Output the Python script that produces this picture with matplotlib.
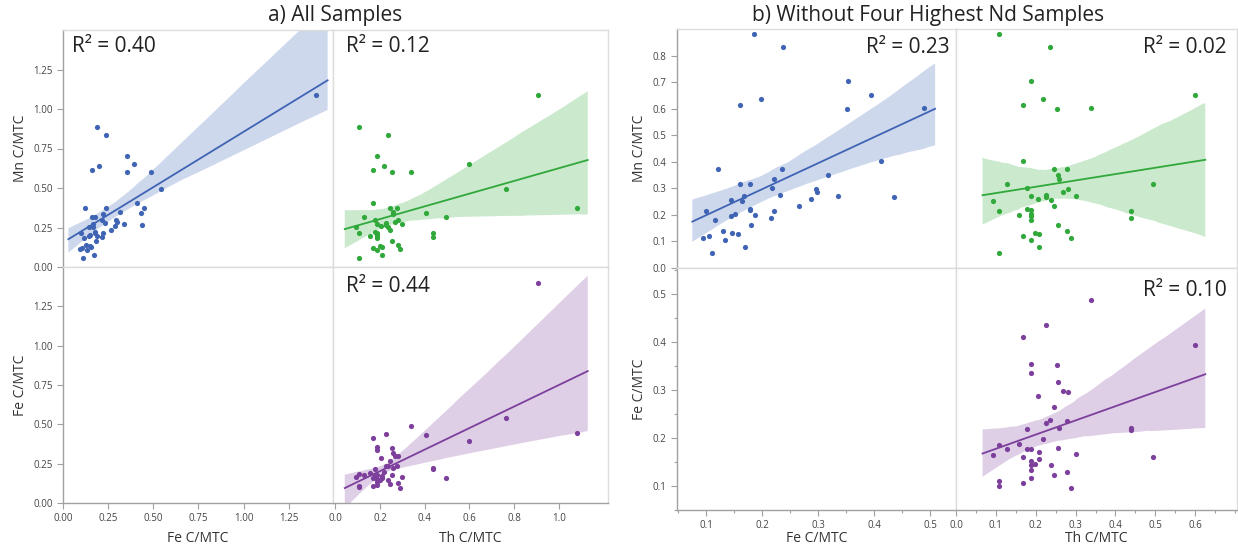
import numpy as np
import matplotlib.pyplot as plt
import seaborn as sns
from matplotlib.ticker import MultipleLocator, FixedLocator, FormatStrFormatter

plt.rcParams['font.family'] = ['Open Sans', 'DejaVu Sans']

# samples kept in panel b (Fe, Mn, Th ratios C/MTC)
fe = np.array([0.186, 0.238, 0.198, 0.160, 0.354, 0.352, 0.489, 0.395, 0.412, 0.436,
               0.122, 0.236, 0.222, 0.318, 0.218, 0.296, 0.298, 0.167, 0.335, 0.232,
               0.288, 0.144, 0.164, 0.265, 0.178, 0.161, 0.100, 0.221, 0.178, 0.178,
               0.216, 0.188, 0.152, 0.144, 0.116, 0.180, 0.130, 0.147, 0.157, 0.106,
               0.095, 0.110, 0.170, 0.134])
mn = np.array([0.883, 0.833, 0.637, 0.612, 0.704, 0.600, 0.602, 0.650, 0.404, 0.266,
               0.371, 0.372, 0.337, 0.350, 0.300, 0.298, 0.285, 0.272, 0.273, 0.276,
               0.261, 0.255, 0.252, 0.233, 0.316, 0.316, 0.215, 0.216, 0.221, 0.218,
               0.190, 0.199, 0.205, 0.195, 0.182, 0.162, 0.138, 0.132, 0.127, 0.122,
               0.112, 0.057, 0.079, 0.105])
th = np.array([0.108, 0.237, 0.218, 0.168, 0.187, 0.253, 0.338, 0.600, 0.168, 0.227,
               0.247, 0.278, 0.258, 0.257, 0.178, 0.280, 0.268, 0.300, 0.188, 0.227,
               0.205, 0.238, 0.092, 0.247, 0.128, 0.494, 0.108, 0.439, 0.178, 0.188,
               0.438, 0.157, 0.188, 0.189, 0.189, 0.256, 0.279, 0.198, 0.207, 0.168,
               0.289, 0.108, 0.207, 0.188])

# the four highest Nd samples (only in panel a)
fe_nd = np.array([1.400, 0.542, 0.448, 0.430])
mn_nd = np.array([1.091, 0.491, 0.374, 0.343])
th_nd = np.array([0.908, 0.763, 1.080, 0.404])

fe_all = np.concatenate([fe, fe_nd])
mn_all = np.concatenate([mn, mn_nd])
th_all = np.concatenate([th, th_nd])

r2_a = ['0.40', '0.12', '0.44']
r2_b = ['0.23', '0.02', '0.10']

blue = '#3f64b4'
green = '#30a83a'
purple = '#7c3f9c'
light = '#dcdcdc'
dark = '#a0a0a0'

W, H = 1238, 550
fig = plt.figure(figsize=(W / 100, H / 100), dpi=100)


def box(x0, y0, x1, y1):
    return [x0 / W, 1 - y1 / H, (x1 - x0) / W, (y1 - y0) / H]


def frame(ax, left=False, bottom=False):
    for s in ax.spines.values():
        s.set_color(light)
        s.set_linewidth(1)
    if left:
        ax.spines['left'].set_color(dark)
    if bottom:
        ax.spines['bottom'].set_color(dark)
    ax.tick_params(which='both', colors=dark, labelcolor='#444444', labelsize=7,
                   length=4, width=0.8, left=left, labelleft=left,
                   bottom=bottom, labelbottom=bottom)
    ax.tick_params(which='minor', length=2.5)


def reg(ax, x, y, color, seed=7):
    sns.regplot(x=x, y=y, ax=ax, color=color, truncate=False, seed=seed,
                scatter_kws={'s': 14, 'alpha': 1, 'linewidths': 0, 'zorder': 3},
                line_kws={'lw': 1.3})
    ax.collections[1].set_alpha(0.25)


def r2(ax, val, x, y, ha):
    ax.text(x, y, 'R² = ' + val, transform=ax.transAxes, ha=ha, va='top',
            fontsize=15, color='#222222')


# ---- panel a ----
a_tl = fig.add_axes(box(63, 30, 333, 267))
a_tr = fig.add_axes(box(333, 30, 608, 267))
a_bl = fig.add_axes(box(63, 267, 333, 503))
a_br = fig.add_axes(box(333, 267, 608, 503))

reg(a_tl, fe_all, mn_all, blue)
reg(a_tr, th_all, mn_all, green)
reg(a_br, th_all, fe_all, purple, seed=1)

ticks_a = [0, 0.25, 0.5, 0.75, 1.0, 1.25]
for ax in (a_tl, a_bl):
    ax.set_xlim(0, 1.495)
    ax.set_ylim(0, 1.5)
for ax in (a_tr, a_br):
    ax.set_xlim(-0.01, 1.22)
    ax.set_ylim(0, 1.5)
for ax in (a_tl, a_tr, a_bl, a_br):
    ax.yaxis.set_major_locator(FixedLocator(ticks_a))
    ax.yaxis.set_major_formatter(FormatStrFormatter('%.2f'))
a_bl.xaxis.set_major_locator(FixedLocator(ticks_a))
a_bl.xaxis.set_major_formatter(FormatStrFormatter('%.2f'))
a_br.xaxis.set_major_locator(FixedLocator([0, 0.2, 0.4, 0.6, 0.8, 1.0]))
a_br.xaxis.set_major_formatter(FormatStrFormatter('%.1f'))

frame(a_tl, left=True)
frame(a_tr)
frame(a_bl, left=True, bottom=True)
frame(a_br, bottom=True)

a_tl.set_ylabel('Mn C/MTC', fontsize=10, color='#333333')
a_bl.set_ylabel('Fe C/MTC', fontsize=10, color='#333333')
a_bl.set_xlabel('Fe C/MTC', fontsize=10, color='#333333', labelpad=5)
a_br.set_xlabel('Th C/MTC', fontsize=10, color='#333333', labelpad=5)

r2(a_tl, r2_a[0], 0.033, 0.975, 'left')
r2(a_tr, r2_a[1], 0.047, 0.975, 'left')
r2(a_br, r2_a[2], 0.047, 0.96, 'left')

# ---- panel b ----
b_tl = fig.add_axes(box(677, 29, 956, 268))
b_tr = fig.add_axes(box(956, 29, 1237, 268))
b_bl = fig.add_axes(box(677, 268, 956, 510))
b_br = fig.add_axes(box(956, 268, 1237, 510))

reg(b_tl, fe, mn, blue)
reg(b_tr, th, mn, green)
reg(b_br, th, fe, purple)

for ax in (b_tl, b_bl):
    ax.set_xlim(0.048, 0.546)
    ax.xaxis.set_major_locator(FixedLocator([0.1, 0.2, 0.3, 0.4, 0.5]))
    ax.xaxis.set_minor_locator(MultipleLocator(0.05))
for ax in (b_tr, b_br):
    ax.set_xlim(0, 0.705)
    ax.xaxis.set_major_locator(FixedLocator([0, 0.1, 0.2, 0.3, 0.4, 0.5, 0.6]))
    ax.xaxis.set_minor_locator(MultipleLocator(0.05))
for ax in (b_tl, b_tr):
    ax.set_ylim(0, 0.9)
    ax.yaxis.set_major_locator(FixedLocator([0, 0.1, 0.2, 0.3, 0.4, 0.5, 0.6, 0.7, 0.8]))
for ax in (b_bl, b_br):
    ax.set_ylim(0.05, 0.555)
    ax.yaxis.set_major_locator(FixedLocator([0.1, 0.2, 0.3, 0.4, 0.5]))
    ax.yaxis.set_minor_locator(MultipleLocator(0.05))
for ax in (b_tl, b_tr, b_bl, b_br):
    ax.xaxis.set_major_formatter(FormatStrFormatter('%.1f'))
    ax.yaxis.set_major_formatter(FormatStrFormatter('%.1f'))

frame(b_tl, left=True)
frame(b_tr)
frame(b_bl, left=True, bottom=True)
frame(b_br, bottom=True)

b_tl.set_ylabel('Mn C/MTC', fontsize=10, color='#333333')
b_bl.set_ylabel('Fe C/MTC', fontsize=10, color='#333333')
b_bl.set_xlabel('Fe C/MTC', fontsize=10, color='#333333', labelpad=0)
b_br.set_xlabel('Th C/MTC', fontsize=10, color='#333333', labelpad=0)

r2(b_tl, r2_b[0], 0.978, 0.967, 'right')
r2(b_tr, r2_b[1], 0.963, 0.967, 'right')
r2(b_br, r2_b[2], 0.963, 0.95, 'right')

fig.text(335 / W, 1 - 16 / H, 'a) All Samples', ha='center', va='center',
         fontsize=15, color='#222222')
fig.text(928 / W, 1 - 16 / H, 'b) Without Four Highest Nd Samples', ha='center',
         va='center', fontsize=15, color='#222222')

fig.savefig('out.png', dpi=100)
